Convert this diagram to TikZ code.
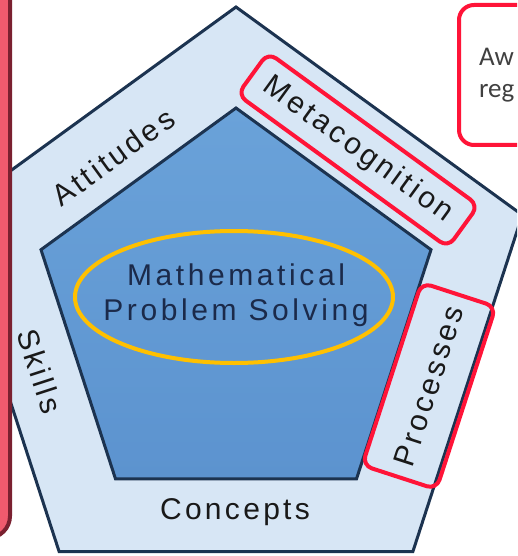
\documentclass[tikz,border=0pt]{standalone}
\usepackage{fontspec}
\newfontfamily\lblfont[LetterSpace=11]{Liberation Sans}
\newfontfamily\corefont[LetterSpace=12]{Liberation Sans}
\newfontfamily\notefont{Carlito}
\usetikzlibrary{shapes.geometric}

\definecolor{ringblue}{HTML}{D7E6F5}
\definecolor{coretop}{HTML}{6AA2D9}
\definecolor{corebot}{HTML}{5C93CF}
\definecolor{edgenavy}{HTML}{1C3350}
\definecolor{hlred}{HTML}{FF1438}
\definecolor{gold}{HTML}{FFC000}
\definecolor{pinkfill}{HTML}{F05A6E}
\definecolor{pinkedge}{HTML}{7A2030}
\definecolor{textnavy}{HTML}{1B2A4A}

\begin{document}
\begin{tikzpicture}[x=1pt, y=-1pt,
  ring/.style={draw=edgenavy, line width=3pt, line join=miter},
  lbl/.style={font=\lblfont\fontsize{30}{34}\selectfont, text=black!90, inner sep=0pt},
  hl/.style={draw=hlred, line width=4pt, rounded corners=10pt}]
\useasboundingbox (0,0) rectangle (517,556);
\clip (0,0) rectangle (517,556);

% outer ring and core
\draw[ring, fill=ringblue] (236,7) -- (522.3,215) -- (412.9,551.5) -- (59.1,551.5) -- (-50.3,215) -- cycle;
\draw[ring, top color=coretop, bottom color=corebot] (236,108) -- (431,249.7) -- (356.5,478.9) -- (115.5,478.9) -- (41,249.7) -- cycle;

% ring labels
\node[lbl, rotate=36] (att) at (113,157) {Attitudes};
\node[lbl, rotate=-72] (skl) at (40,371) {Skills};
\node[lbl] (cpt) at (235,512) {Concepts};
\node[lbl, hl, rotate=-36, minimum width=260pt, minimum height=52pt] (meta) at (358,150) {Metacognition};
\node[lbl, hl, rotate=72, minimum width=192pt, minimum height=78pt] (proc) at (429,386) {Processes};

% centre
\node[align=center, inner sep=0pt, font=\corefont\fontsize{30}{35}\selectfont, text=textnavy] (mps) at (236,295) {Mathematical\\Problem Solving};
\draw[gold, line width=4pt] (mps.center) ++(-2,2) ellipse [x radius=159, y radius=66];

% side boxes
\draw[fill=pinkfill, draw=pinkedge, line width=4pt, rounded corners=22pt] (-40,-30) rectangle (10,538);
\node[draw=hlred, line width=4pt, rounded corners=15pt, fill=white, anchor=north west,
  minimum height=140pt, text width=120pt, align=left, inner xsep=20pt,
  font=\notefont\fontsize{27}{32}\selectfont, text=black!75] (note) at (457,3) {Aw\\reg};
\end{tikzpicture}
\end{document}
